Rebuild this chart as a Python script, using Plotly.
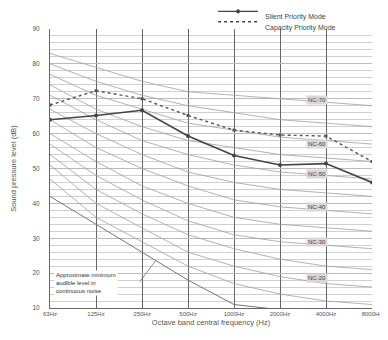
import plotly.graph_objects as go

freqs = ["63Hz", "125Hz", "250Hz", "500Hz", "1000Hz", "2000Hz", "4000Hz", "8000Hz"]
xs = list(range(len(freqs)))

nc_names = ["NC-15", "NC-20", "NC-25", "NC-30", "NC-35", "NC-40", "NC-45",
            "NC-50", "NC-55", "NC-60", "NC-65", "NC-70"]
nc_values = [
    [47, 36, 29, 22, 17, 14, 12, 11],
    [51, 40, 33, 26, 22, 19, 17, 16],
    [54, 44, 37, 31, 27, 24, 22, 21],
    [57, 48, 41, 35, 31, 29, 28, 27],
    [60, 52, 45, 40, 36, 34, 33, 32],
    [64, 56, 50, 45, 41, 39, 38, 37],
    [67, 60, 54, 49, 46, 44, 43, 42],
    [71, 64, 58, 54, 51, 49, 48, 47],
    [74, 67, 62, 58, 56, 54, 53, 52],
    [77, 71, 67, 63, 61, 59, 58, 57],
    [80, 75, 71, 68, 66, 64, 63, 62],
    [83, 79, 75, 72, 71, 70, 69, 68],
]
label_names = ["NC-70", "NC-60", "NC-50", "NC-40", "NC-30", "NC-20"]
label_levels = [69.5, 57, 48.5, 39, 29, 18.5]

threshold = [42, 34, 26, 18, 11, 9.5]
silent = [64, 65.2, 66.7, 59.3, 53.7, 51, 51.4, 46]
capacity = [68.2, 72.3, 70, 65.2, 61, 59.6, 59.3, 52]
series_names = ["Silent Priority Mode", "Capacity Priority Mode"]

GRAY_TXT = "#555"
fig = go.Figure()
for name, vals in zip(nc_names, nc_values):
    fig.add_trace(go.Scatter(x=xs, y=vals, mode="lines", name=name, showlegend=False,
                             line=dict(color="#a0a0a0", width=0.8), hoverinfo="skip"))
fig.add_trace(go.Scatter(x=xs[:len(threshold)], y=threshold, mode="lines", showlegend=False,
                         line=dict(color="#777", width=1), name="threshold"))
fig.add_trace(go.Scatter(x=xs, y=silent, mode="lines+markers", name=series_names[0],
                         showlegend=False, line=dict(color="#444", width=1.6),
                         marker=dict(symbol="circle", size=4, color="#444")))
fig.add_trace(go.Scatter(x=xs, y=capacity, mode="lines+markers", name=series_names[1],
                         showlegend=False, line=dict(color="#555", width=1.4, dash="dot"),
                         marker=dict(symbol="square", size=3, color="#555")))

# manual legend (paper coordinates above the plot)
legend_rows = [(1.063, "solid"), (1.026, "dot")]
for (py, dash), name in zip(legend_rows, series_names):
    fig.add_shape(type="line", xref="paper", yref="paper", x0=0.522, x1=0.646, y0=py, y1=py,
                  line=dict(color="#444", width=1.4, dash=dash))
    fig.add_annotation(xref="paper", yref="paper", x=0.661, y=py, text=name, xanchor="left",
                       showarrow=False, font=dict(size=7, color="#444"))
fig.add_shape(type="circle", xref="paper", yref="paper", x0=0.578, x1=0.590,
              y0=1.063 - 0.0075, y1=1.063 + 0.0075, fillcolor="#444", line=dict(width=0))

for name, lvl in zip(label_names, label_levels):
    fig.add_annotation(x=5.8, y=lvl, text=name, showarrow=False,
                       font=dict(size=6, color="#444"), bgcolor="#d8d8d8", borderpad=1)

fig.add_annotation(x=0.08, y=13.3, xanchor="left", yanchor="bottom", align="left",
                   text="Approximate minimum<br>audible level in<br>continuous noise",
                   showarrow=False, font=dict(size=6, color="#333"), bgcolor="white")
fig.add_shape(type="line", x0=1.95, y0=17.5, x1=2.3, y1=23.6,
              line=dict(color="#777", width=0.8))

fig.update_xaxes(range=[0, 7], tickvals=xs, ticktext=freqs, showgrid=True, automargin=False,
                 gridcolor="#666", gridwidth=1, zeroline=False, showline=True,
                 linecolor="#666", tickfont=dict(size=6, color=GRAY_TXT), ticks="",
                 title=dict(text="Octave band central frequency (Hz)",
                            font=dict(size=7.5, color=GRAY_TXT), standoff=3))
fig.update_yaxes(range=[10, 90], dtick=10, showgrid=True, gridcolor="#bbb", gridwidth=0.8,
                 automargin=False, ticklabelstandoff=8,
                 minor=dict(dtick=2, showgrid=True, gridcolor="#d0d0d0", gridwidth=0.6),
                 zeroline=False, showline=True, linecolor="#666", ticks="",
                 tickfont=dict(size=6.5, color=GRAY_TXT),
                 title=dict(text="Sound pressure level (dB)", font=dict(size=7.5, color=GRAY_TXT),
                            standoff=14))
fig.update_layout(
    width=380, height=332, template="none",
    paper_bgcolor="white", plot_bgcolor="white",
    font=dict(family="Liberation Sans, Arial, sans-serif", color=GRAY_TXT),
    margin=dict(l=42, r=16, t=21, b=32, autoexpand=False),
    showlegend=False,
)
fig.write_html("out.html")
